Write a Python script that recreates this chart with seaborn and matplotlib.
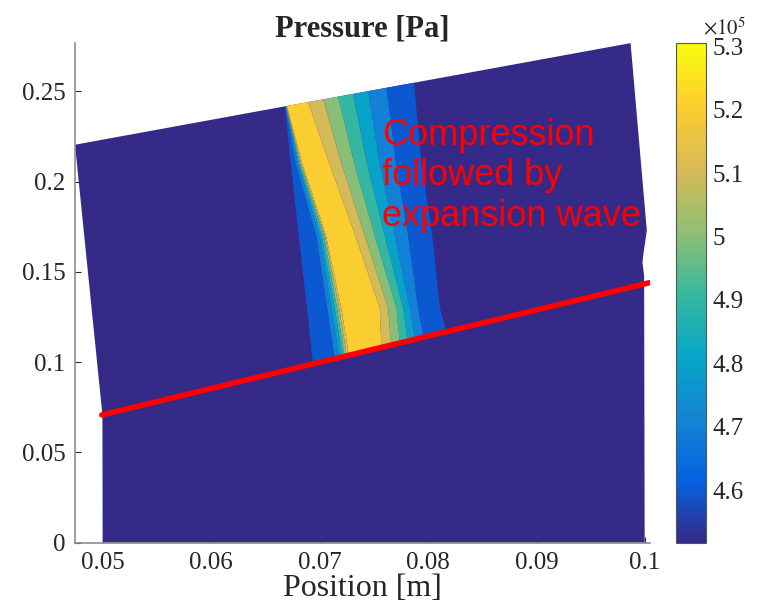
import numpy as np
import matplotlib
matplotlib.use('Agg')
import matplotlib.pyplot as plt
import seaborn as sns
from matplotlib.colors import LinearSegmentedColormap, Normalize
from matplotlib.cm import ScalarMappable
from matplotlib.patches import Polygon

# MATLAB parula look-alike
parula_hex = ["#352a87", "#0363e1", "#1485d4", "#06a7c6", "#38b99e",
              "#92bf73", "#d9ba56", "#fcce2e", "#f9fb0e"]
parula = LinearSegmentedColormap.from_list('parula', parula_hex)

p_min, p_max = 4.517e5, 5.305e5
p_levels = [4.50e5, 4.6e5, 4.7e5, 4.8e5, 4.9e5, 5.0e5, 5.1e5, 5.2e5, 5.3e5]

# deformed domain outline (m)
domain_x = [0.04742, 0.09870, 0.10020, 0.09985, 0.09980, 0.09995, 0.10000, 0.04997, 0.04995]
domain_y = [0.2205, 0.2768, 0.1730, 0.1585, 0.1550, 0.1480, 0.0, 0.0, 0.0708]

# red line
piston_x = [0.0499, 0.1004]
piston_y = [0.0708, 0.1440]

# pressure across the wave, left to right (Pa)
p_across = [4.55e5, 4.60e5, 4.70e5, 4.80e5, 4.90e5, 5.00e5, 5.10e5, 5.20e5, 5.27e5,
            5.20e5, 5.10e5, 5.00e5, 4.90e5, 4.80e5, 4.70e5, 4.60e5, 4.55e5]

# where those values sit on each row (bottom row lies on the red line, top row on the top edge)
x_bot = [0.06936, 0.06940, 0.07140, 0.07180, 0.07210, 0.07230, 0.07250, 0.07270, 0.07420,
         0.07570, 0.07660, 0.07740, 0.07810, 0.07880, 0.07960, 0.08170, 0.08174]
x_130 = [0.06879, 0.06883, 0.07070, 0.07110, 0.07140, 0.07160, 0.07180, 0.07200, 0.07378,
         0.07555, 0.07632, 0.07709, 0.07771, 0.07832, 0.07909, 0.08110, 0.08114]
x_170 = [0.06804, 0.06808, 0.06970, 0.07000, 0.07020, 0.07040, 0.07050, 0.07060, 0.07195,
         0.07330, 0.07417, 0.07509, 0.07601, 0.07694, 0.07817, 0.08040, 0.08044]
x_210 = [0.06730, 0.06734, 0.06780, 0.06800, 0.06810, 0.06820, 0.06830, 0.06840, 0.06965,
         0.07090, 0.07202, 0.07320, 0.07437, 0.07556, 0.07705, 0.07940, 0.07944]
x_top = [0.06675, 0.06679, 0.06682, 0.06685, 0.06688, 0.06691, 0.06694, 0.06698, 0.06796,
         0.06894, 0.07033, 0.07171, 0.07309, 0.07448, 0.07617, 0.07870, 0.07874]
row_y_mid = [0.13, 0.17, 0.21]

x_ticks = [0.05, 0.06, 0.07, 0.08, 0.09, 0.1]
y_ticks = [0, 0.05, 0.1, 0.15, 0.2, 0.25]
cb_ticks = [4.6e5, 4.7e5, 4.8e5, 4.9e5, 5.0e5, 5.1e5, 5.2e5, 5.3e5]
cb_labels = ['4.6', '4.7', '4.8', '4.9', '5', '5.1', '5.2', '5.3']

sns.set_style('ticks')
plt.rcParams['font.family'] = ['Liberation Serif', 'DejaVu Serif']
plt.rcParams['mathtext.fontset'] = 'stix'

fig = plt.figure(figsize=(7.63, 6.16), dpi=100)
ax = fig.add_axes([0.0983, 0.119, 0.7537, 0.811])
cax = fig.add_axes([0.886, 0.119, 0.0393, 0.811])

norm = Normalize(p_min, p_max)
navy = parula(norm(p_min))
fill_cols = [parula(norm(max(v, p_min))) for v in p_levels[:-1]]

ax.add_patch(Polygon(np.column_stack([domain_x, domain_y]), closed=True,
                     facecolor=navy, edgecolor='none', zorder=1))

# mesh of the wave band
top_y = np.interp(x_top, [domain_x[0], domain_x[1]], [domain_y[0], domain_y[1]])
bot_y = np.interp(x_bot, piston_x, piston_y)
X = np.array([x_bot, x_130, x_170, x_210, x_top])
Y = np.vstack([bot_y] + [np.full(len(x_top), v) for v in row_y_mid] + [top_y])
P = np.tile(p_across, (X.shape[0], 1))
ax.contourf(X, Y, P, levels=p_levels, colors=fill_cols, zorder=2, antialiased=True)

sns.lineplot(x=piston_x, y=piston_y, color='red', lw=4, ax=ax, zorder=3)

ax.text(0.07574, 0.2354, 'Compression\nfollowed by\nexpansion wave', color='red',
        fontsize=26, family=['Liberation Sans', 'DejaVu Sans'], va='top', ha='left', zorder=4)

ax.set_xlim(0.04742, 0.1005)
ax.set_ylim(0, 0.2768)
ax.set_xticks(x_ticks)
ax.set_xticklabels(['%g' % v for v in x_ticks])
ax.set_yticks(y_ticks)
ax.set_yticklabels(['%g' % v for v in y_ticks])
ax.tick_params(direction='in', length=4, labelsize=18, colors='#262626', pad=7)
ax.set_xlabel('Position [m]', fontsize=23, color='#262626', labelpad=0)
ax.set_title('Pressure [Pa]', fontsize=22, fontweight='bold', pad=5)
sns.despine(ax=ax)
for s in ['left', 'bottom']:
    ax.spines[s].set_color('#8c8c8c')
    ax.spines[s].set_linewidth(1.2)

cb = fig.colorbar(ScalarMappable(norm=norm, cmap=parula), cax=cax)
cb.set_ticks(cb_ticks)
cb.set_ticklabels(cb_labels)
cax.tick_params(direction='in', length=4, labelsize=18, colors='#262626', pad=5)
cb.outline.set_edgecolor('#555555')
cb.outline.set_linewidth(0.8)
fig.text(0.921, 0.936, r'$\times10^5$', fontsize=15, color='#262626', ha='left', va='bottom')

fig.savefig('out.png', dpi=100)
